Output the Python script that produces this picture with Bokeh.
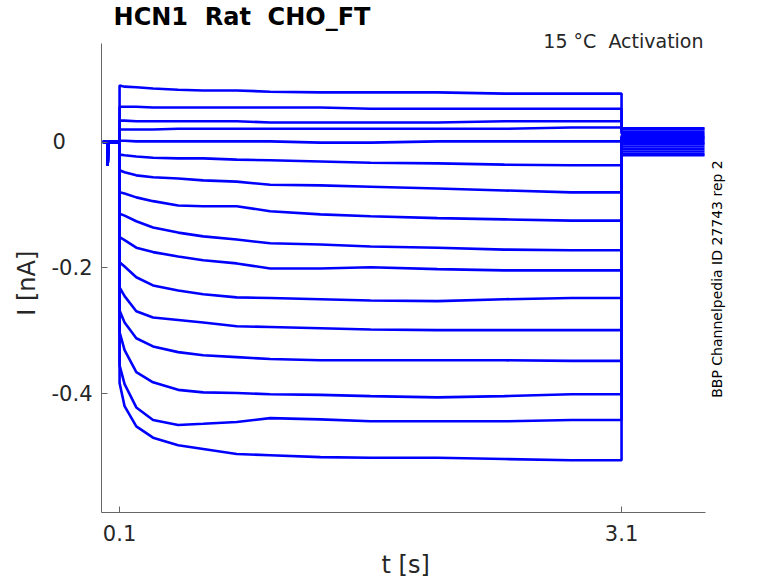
from bokeh.plotting import figure
from bokeh.models import FixedTicker, Label
from bokeh.embed import file_html
from bokeh.resources import INLINE
import math

# time points (s) of the activation step
t_step = [0.1, 0.13, 0.2, 0.3, 0.45, 0.6, 0.8, 1.0, 1.3, 1.6, 2.0, 2.4, 2.8, 3.1]

# current (nA) of each sweep at those times, top to bottom
i01 = [0.090, 0.088, 0.087, 0.085, 0.083, 0.082, 0.082, 0.080, 0.079, 0.079, 0.079, 0.077, 0.077, 0.077]
i02 = [0.056, 0.056, 0.056, 0.055, 0.055, 0.055, 0.055, 0.055, 0.055, 0.053, 0.053, 0.053, 0.053, 0.053]
i03 = [0.034, 0.034, 0.033, 0.033, 0.033, 0.033, 0.033, 0.031, 0.031, 0.031, 0.031, 0.033, 0.033, 0.033]
i04 = [0.020, 0.020, 0.020, 0.020, 0.021, 0.021, 0.021, 0.021, 0.021, 0.021, 0.021, 0.021, 0.023, 0.023]
i05 = [0.002, 0.002, 0.001, 0.001, 0.001, 0.001, 0.001, 0.001, -0.001, -0.001, 0.001, 0.001, 0.001, 0.001]
i06 = [-0.020, -0.021, -0.023, -0.025, -0.026, -0.026, -0.028, -0.029, -0.031, -0.033, -0.034, -0.036, -0.037, -0.037]
i07 = [-0.045, -0.048, -0.053, -0.056, -0.058, -0.061, -0.063, -0.068, -0.069, -0.071, -0.074, -0.077, -0.080, -0.080]
i08 = [-0.080, -0.082, -0.088, -0.094, -0.101, -0.102, -0.102, -0.110, -0.115, -0.118, -0.121, -0.123, -0.125, -0.125]
i09 = [-0.114, -0.117, -0.126, -0.136, -0.144, -0.150, -0.155, -0.161, -0.163, -0.166, -0.168, -0.171, -0.172, -0.172]
i10 = [-0.151, -0.156, -0.168, -0.175, -0.182, -0.188, -0.193, -0.201, -0.201, -0.199, -0.202, -0.204, -0.204, -0.204]
i11 = [-0.191, -0.198, -0.215, -0.228, -0.236, -0.242, -0.247, -0.248, -0.250, -0.252, -0.253, -0.250, -0.248, -0.248]
i12 = [-0.231, -0.245, -0.269, -0.279, -0.283, -0.287, -0.293, -0.294, -0.296, -0.298, -0.299, -0.299, -0.299, -0.299]
i13 = [-0.268, -0.287, -0.312, -0.325, -0.334, -0.339, -0.342, -0.345, -0.347, -0.347, -0.347, -0.347, -0.348, -0.348]
i14 = [-0.302, -0.331, -0.366, -0.382, -0.394, -0.398, -0.399, -0.401, -0.402, -0.404, -0.406, -0.404, -0.401, -0.401]
i15 = [-0.355, -0.385, -0.422, -0.442, -0.450, -0.448, -0.445, -0.439, -0.441, -0.444, -0.444, -0.444, -0.442, -0.442]
i16 = [-0.383, -0.420, -0.452, -0.470, -0.482, -0.488, -0.496, -0.498, -0.501, -0.502, -0.502, -0.504, -0.506, -0.506]
sweeps = [i01, i02, i03, i04, i05, i06, i07, i08, i09, i10, i11, i12, i13, i14, i15, i16]

# holding before the step (shared by all sweeps), with the small artefact
t_pre = [0.0, 0.027, 0.029, 0.032, 0.1]
i_pre = [0.0, 0.0, -0.037, 0.0, 0.0]

# tail after the step
t_tail = [3.1, 3.596]
i_tail = [0.020, 0.022, 0.013, 0.016, 0.008, 0.004, 0.010, 0.001, -0.003, 0.006, -0.007, -0.011, -0.002, -0.015, -0.019, -0.021]

x_ticks = [0.1, 3.1]
y_ticks = [-0.4, -0.2, 0]
x_axis_span = (-0.008, 3.602)
y_axis_span = (-0.589, 0.157)

FONT = "DejaVu Sans"
GREY = "#262626"
SP = " \u00a0"  # double space that survives in svg text
FIG = "\u2007"   # figure space, used as padding to shift a centred label
NB = "\u00a0"

# the frame runs to the top and right edges so the texts there are not clipped;
# the axis lines are bounded to the real axes box
p = figure(width=778, height=583, x_range=(-0.008, 4.038), y_range=(-0.589, 0.225),
           title=None, output_backend="svg", toolbar_location=None,
           min_border_left=101, min_border_right=0, min_border_top=0, min_border_bottom=71)
p.outline_line_color = None
p.grid.visible = False

for k, sw in enumerate(sweeps):
    xs = t_pre + t_step + t_tail
    ys = i_pre + sw + [i_tail[k], i_tail[k]]
    p.line(xs, ys, line_color="#0000ff", line_width=2.6)

for ax in (p.xaxis[0], p.yaxis[0]):
    ax.axis_line_color = "#666666"
    ax.major_tick_line_color = "#666666"
    ax.major_tick_in = 6
    ax.major_tick_out = 0
    ax.minor_tick_line_color = None
    ax.major_label_text_font = FONT
    ax.major_label_text_font_size = "21px"
    ax.major_label_text_color = GREY
    ax.axis_label_text_font = FONT
    ax.axis_label_text_font_size = "24px"
    ax.axis_label_text_font_style = "normal"
    ax.axis_label_text_color = GREY

p.xaxis.bounds = x_axis_span
p.xaxis.ticker = FixedTicker(ticks=x_ticks)
p.xaxis.major_label_overrides = {0.1: "0.1", 3.1: "3.1"}
p.xaxis.major_label_standoff = 12
p.xaxis.axis_label = "t [s]" + FIG * 4 + NB
p.xaxis.axis_label_standoff = 7

p.yaxis.bounds = y_axis_span
p.yaxis.ticker = FixedTicker(ticks=y_ticks)
p.yaxis.major_label_overrides = {0: "0" + FIG * 2, -0.2: "-0.2", -0.4: "-0.4"}
p.yaxis.major_label_standoff = 9
p.yaxis.axis_label = "I [nA]" + FIG * 2 + NB * 3
p.yaxis.axis_label_standoff = 8

p.add_layout(Label(x=0.064, y=0.198, text="HCN1" + SP + "Rat" + SP + "CHO_FT", text_font=FONT,
                   text_font_size="24px", text_font_style="bold", text_color="black",
                   text_align="left", text_baseline="alphabetic"))
p.add_layout(Label(x=3.59, y=0.161, text="15 °C" + SP + "Activation", text_font=FONT,
                   text_font_size="19px", text_color=GREY, text_align="right",
                   text_baseline="alphabetic"))
p.add_layout(Label(x=3.668, y=-0.2178, text="BBP Channelpedia ID 27743 rep 2", text_font=FONT,
                   text_font_size="14px", text_color="black", angle=math.pi / 2,
                   text_align="center", text_baseline="middle"))

open("out.html", "w").write(file_html(p, INLINE))
